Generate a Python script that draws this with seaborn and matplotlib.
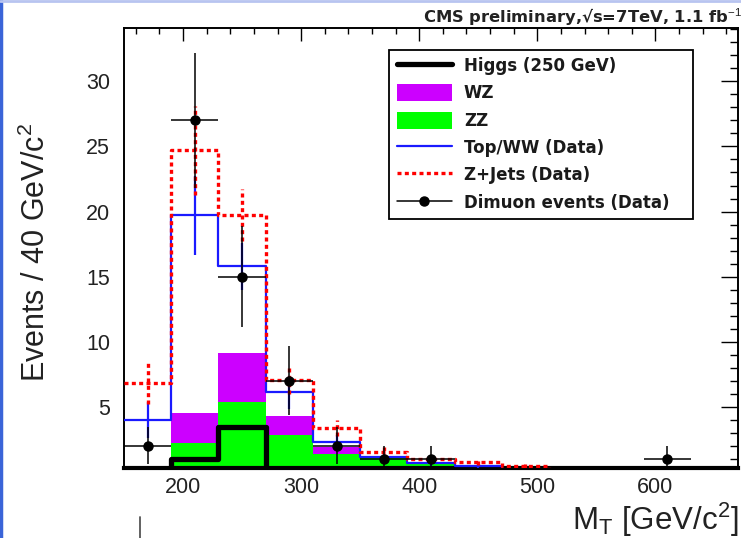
import numpy as np
import pandas as pd
import matplotlib
matplotlib.use("Agg")
import matplotlib.pyplot as plt
import seaborn as sns
from matplotlib.lines import Line2D
from matplotlib.patches import Patch
from matplotlib.ticker import MultipleLocator

# ---------------- data (40 GeV bins from 150 to 670) ----------------
bin_edges = [150, 190, 230, 270, 310, 350, 390, 430, 470, 510, 550, 590, 630, 670]
bin_centers = [170, 210, 250, 290, 330, 370, 410, 450, 490, 530, 570, 610, 650]
higgs = [0.0, 1.0, 3.47, 0, 0, 0, 0, 0, 0, 0, 0, 0, 0]
zz = [0.0, 2.23, 5.4, 2.82, 1.41, 1.1, 0.64, 0.2, 0, 0, 0, 0, 0]
wz = [0.35, 2.26, 3.7, 1.48, 0.51, 0.05, 0.02, 0, 0, 0, 0, 0, 0]
topww = [4.0, 19.7, 15.8, 6.1, 2.3, 1.15, 0.72, 0.46, 0, 0, 0, 0, 0]
topww_err = [1.4, 3.0, 1.8, 1.3, 0.55, 0.4, 0.3, 0.2, 0, 0, 0, 0, 0]
zjets = [6.85, 24.7, 19.7, 7.05, 3.35, 1.5, 1.0, 0.75, 0.45, 0, 0, 0, 0]
zjets_err = [1.6, 3.4, 2.0, 1.1, 0.6, 0.4, 0.3, 0.2, 0.15, 0, 0, 0, 0]
data = [2, 27, 15, 7, 2, 1, 1, 0, 0, 0, 0, 1, 0]

legend_labels = ["Higgs (250 GeV)", "WZ", "ZZ", "Top/WW (Data)",
                 "Z+Jets (Data)", "Dimuon events (Data)"]
title_text = "CMS preliminary,\u221as=7TeV, 1.1 fb$^{-1}$"

# ---------------- style ----------------
sns.set_theme(style="white")
plt.rcParams["font.family"] = ["Liberation Sans", "DejaVu Sans"]
plt.rcParams["mathtext.fontset"] = "custom"
plt.rcParams["mathtext.rm"] = "Liberation Sans"
plt.rcParams["mathtext.it"] = "Liberation Sans:italic"
plt.rcParams["mathtext.bf"] = "Liberation Sans:bold"

C_WZ = "#cc00ff"
C_ZZ = "#00ff00"
C_BLUE = "#1a1aff"
C_RED = "#ff0000"

fig = plt.figure(figsize=(7.41, 5.38), dpi=100)
ax = fig.add_axes([124 / 741, 1 - 468 / 538, 614 / 741, 440 / 538])

# stacked ZZ (bottom) + WZ (top)
df_stack = pd.DataFrame({
    "mt": bin_centers * 2,
    "w": wz + zz,
    "proc": ["WZ"] * len(bin_centers) + ["ZZ"] * len(bin_centers),
})
sns.histplot(data=df_stack, x="mt", weights="w", hue="proc", hue_order=["WZ", "ZZ"],
             multiple="stack", bins=bin_edges, element="step", fill=True,
             palette={"WZ": C_WZ, "ZZ": C_ZZ}, alpha=1, linewidth=0,
             legend=False, ax=ax, zorder=1)

# Higgs signal
sns.histplot(x=bin_centers, weights=higgs, bins=bin_edges, element="step", fill=False,
             color="black", linewidth=3.8, ax=ax, zorder=3)

# Top/WW
sns.histplot(x=bin_centers, weights=topww, bins=bin_edges, element="step", fill=False,
             color=C_BLUE, linewidth=1.6, ax=ax, zorder=4)
tw_mask = np.array(topww_err) > 0
ax.errorbar(np.array(bin_centers)[tw_mask], np.array(topww)[tw_mask],
            yerr=np.array(topww_err)[tw_mask], fmt="none", ecolor=C_BLUE,
            elinewidth=1.6, capsize=0, zorder=4)

# Z+Jets
sns.histplot(x=bin_centers, weights=zjets, bins=bin_edges, element="step", fill=False,
             color=C_RED, linewidth=2.4, linestyle=(0, (1.2, 1.0)), ax=ax, zorder=5)
zj_mask = np.array(zjets_err) > 0
eb = ax.errorbar(np.array(bin_centers)[zj_mask], np.array(zjets)[zj_mask],
                 yerr=np.array(zjets_err)[zj_mask], fmt="none", ecolor=C_RED,
                 elinewidth=2.4, capsize=0, zorder=5)
for lc in eb[2]:
    lc.set_linestyle((0, (1.2, 1.0)))

# data points
d = np.array(data, dtype=float)
dm = d > 0
xd = np.array(bin_centers)[dm]
ax.errorbar(xd, d[dm], xerr=20, yerr=np.sqrt(d[dm]), fmt="o", color="black",
            ms=6.5, elinewidth=1.1, capsize=0, zorder=6)

# ---------------- axes ----------------
ax.set_xlim(150, 670)
ax.set_ylim(0.3, 34.1)
ax.xaxis.set_major_locator(MultipleLocator(100))
ax.xaxis.set_minor_locator(MultipleLocator(20))
ax.yaxis.set_major_locator(MultipleLocator(5))
ax.yaxis.set_minor_locator(MultipleLocator(1))
ax.tick_params(axis="both", which="both", direction="in", top=True, right=True,
               colors="black", width=1.0, labelsize=15.5)
ax.tick_params(axis="x", which="major", length=9, pad=6.5)
ax.tick_params(axis="x", which="minor", length=4.5)
ax.tick_params(axis="y", which="major", length=12, pad=10)
ax.tick_params(axis="y", which="minor", length=6)
for lab in ax.get_xticklabels() + ax.get_yticklabels():
    lab.set_color("#222222")
for s in ax.spines.values():
    s.set_visible(True)
    s.set_color("black")
    s.set_linewidth(1.4)
ax.spines["bottom"].set_linewidth(3)
ax.set_xlabel("")
ax.set_ylabel("")
ax.set_facecolor("white")

fig.text(738 / 741, 1 - 530 / 538, r"M$_{\mathrm{T}}$ [GeV/c$^{2}$]", fontsize=22.5,
         ha="right", va="baseline", color="#222222")
fig.text(36 / 741, 1 - 123 / 538, r"Events / 40 GeV/c$^{2}$", fontsize=22,
         rotation=90, ha="center", va="top", color="#222222")
fig.text(423 / 741, 1 - 23 / 538, title_text, fontsize=11.8, fontweight="bold",
         family="DejaVu Sans", ha="left", va="baseline", color="#222222")

# ---------------- legend ----------------
handles = [
    Line2D([], [], color="black", lw=3.8),
    Patch(facecolor=C_WZ, edgecolor="none"),
    Patch(facecolor=C_ZZ, edgecolor="none"),
    Line2D([], [], color=C_BLUE, lw=1.6),
    Line2D([], [], color=C_RED, lw=2.4, linestyle=(0, (1.2, 1.0))),
    Line2D([], [], color="black", lw=1.1, marker="o", ms=6.5),
]
x0 = (389 - 124) / 614
w = (693 - 389) / 614
ytop = (468 - 49.5) / 440
leg = ax.legend(handles, legend_labels, loc="upper left",
                bbox_to_anchor=(x0, ytop - 0.5, w, 0.5), mode="expand",
                borderaxespad=0, frameon=True, fancybox=False, framealpha=1,
                edgecolor="black",
                prop={"weight": "bold", "size": 12, "family": "DejaVu Sans"},
                handlelength=3.35, handleheight=1.2, handletextpad=0.7,
                labelspacing=0.55, borderpad=0.45)
leg.get_frame().set_linewidth(1.3)
leg.set_zorder(10)
for t in leg.get_texts():
    t.set_color("#1a1a1a")

# ---------------- page decorations ----------------
fig.add_artist(Line2D([0.002, 0.002], [0, 1], transform=fig.transFigure,
                      color="#3a64d8", lw=2.5))
fig.add_artist(Line2D([0, 1], [0.998, 0.998], transform=fig.transFigure,
                      color="#b8c4f0", lw=2))
fig.add_artist(Line2D([140 / 741, 140 / 741], [0, 21 / 538], transform=fig.transFigure,
                      color="#555555", lw=1.3))

fig.savefig("out.png", dpi=100)
